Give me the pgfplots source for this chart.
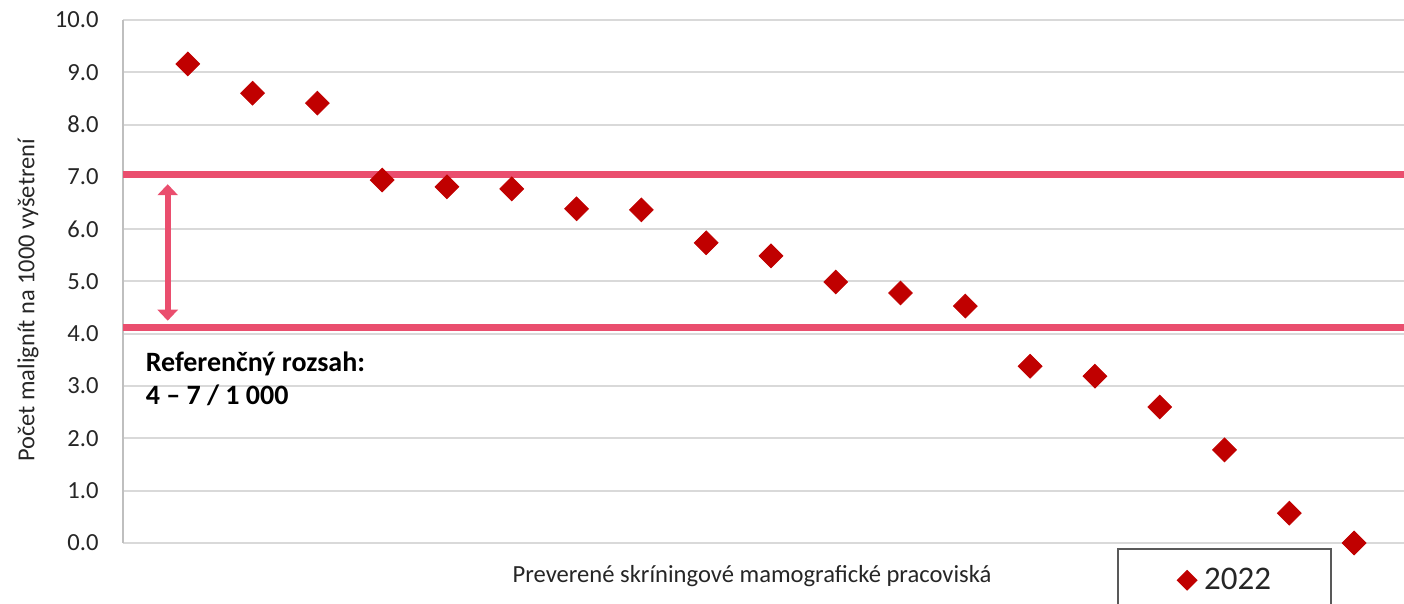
\documentclass[border=0pt]{standalone}
\usepackage{fontspec}
\setmainfont{Carlito}
\usepackage{pgfplots}
\pgfplotsset{compat=1.18}
\usetikzlibrary{arrows.meta}
\definecolor{markred}{RGB}{192,0,0}
\definecolor{refline}{RGB}{234,78,110}
\definecolor{gridgray}{RGB}{217,217,217}

\begin{document}
\begin{tikzpicture}
\useasboundingbox (-61.5pt,-30.5pt) rectangle (640.5pt,271.5pt);
\begin{axis}[
    at={(0pt,0pt)}, anchor=south west,
    scale only axis,
    width=640.5pt, height=261.5pt,
    xmin=0, xmax=19.77,
    ymin=0, ymax=10,
    axis x line*=bottom, axis y line*=left,
    x axis line style={draw=none},
    y axis line style={draw=black!25, line width=1pt, -},
    xtick=\empty,
    ytick={0,1,...,10},
    major tick length=0pt,
    ymajorgrids,
    grid style={gridgray, line width=1pt},
    /pgf/number format/assume math mode=true,
    yticklabel={\pgfmathprintnumber[fixed, fixed zerofill, precision=1]{\tick}},
    yticklabel style={font=\fontsize{12.3}{14}\selectfont, inner sep=0pt, xshift=-12pt, text=black!85},
    ylabel={Počet malignít na 1000 vyšetrení},
    ylabel style={at={(axis description cs:-0.0742,0.464)}, anchor=center, font=\fontsize{12.2}{14}\selectfont, text=black!85},
    xlabel={Preverené skríningové mamografické pracoviská},
    xlabel style={at={(axis description cs:0.491,-0.063)}, anchor=center, font=\fontsize{12.3}{14}\selectfont, text=black!85},
    legend style={at={(axis description cs:0.776,-0.0096)}, anchor=north west,
        draw=black!65, line width=1pt, inner xsep=30pt, inner ysep=9.5pt,
        font=\fontsize{16.5}{18}\selectfont, text=black!85,
        nodes={inner sep=0pt}, column sep=4pt},
    legend image code/.code={\draw[#1, mark size=3.2pt] plot coordinates {(0pt,0pt)};},
    clip=false,
]
\addplot[refline, line width=3.5pt, forget plot] coordinates {(0,7.05) (19.77,7.05)};
\addplot[refline, line width=3.5pt, forget plot] coordinates {(0,4.12) (19.77,4.12)};
\draw[refline, line width=3pt, {Triangle[width=10pt,length=5.5pt]}-{Triangle[width=10pt,length=5.5pt]}]
    (axis cs:0.69,6.86) -- (axis cs:0.69,4.25);
\node[anchor=base west, inner sep=0pt, font=\fontsize{14}{16}\selectfont\bfseries]
    at (axis cs:0.345,3.27) {Referenčný rozsah:};
\node[anchor=base west, inner sep=0pt, font=\fontsize{14}{16}\selectfont\bfseries]
    at (axis cs:0.345,2.64) {4 – 7 / 1 000};
\addplot[only marks, mark=square*, mark size=4.2pt,
    mark options={rotate=45, fill=markred, draw=markred}, color=markred]
coordinates {
    (1,9.16) (2,8.60) (3,8.41) (4,6.94) (5,6.81) (6,6.77) (7,6.39)
    (8,6.37) (9,5.74) (10,5.49) (11,4.99) (12,4.78) (13,4.53)
    (14,3.38) (15,3.19) (16,2.60) (17,1.78) (18,0.57) (19,0.00)
};
\addlegendentry{2022}
\end{axis}
\end{tikzpicture}
\end{document}
